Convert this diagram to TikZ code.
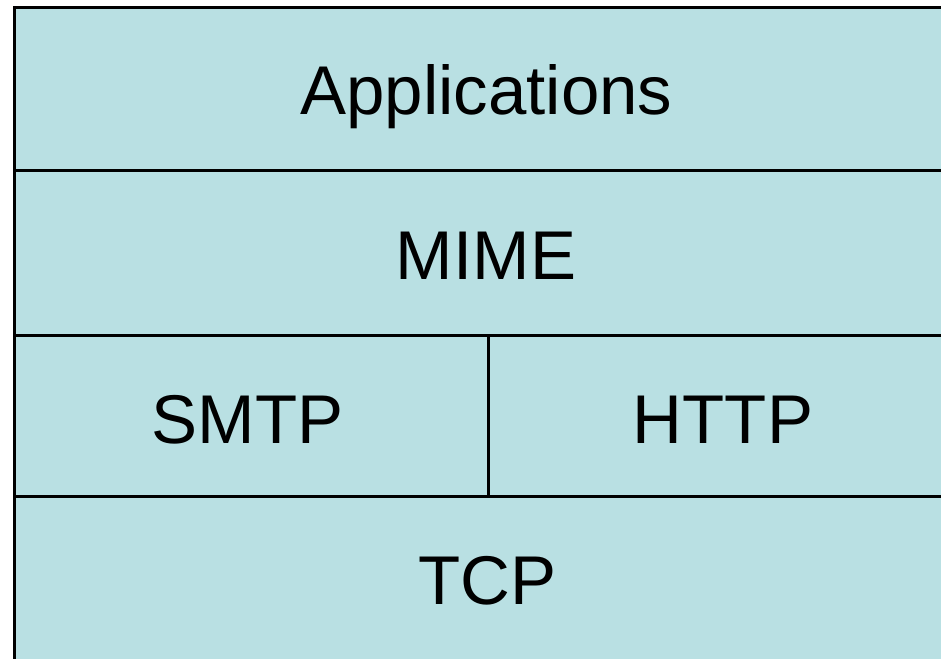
\documentclass[tikz,border=0pt]{standalone}
\usepackage{fontspec}
\setmainfont{Liberation Sans}
\definecolor{cellfill}{RGB}{185,224,227}
\begin{document}
\begin{tikzpicture}[x=1pt,y=-1pt,
  cell/.style={draw=black,line width=3pt,fill=cellfill},
  label/.style={inner sep=0pt,anchor=base,font=\fontsize{69}{83}\selectfont}]
\useasboundingbox (0,0) rectangle (941,658);
\clip (0,0) rectangle (941,658);
\fill[white] (0,0) rectangle (941,658);
% cells
\path[cell] (14.5,7.5) rectangle (960,170.5);
\path[cell] (14.5,170.5) rectangle (960,335);
\path[cell] (14.5,335) rectangle (488,496.5);
\path[cell] (488,335) rectangle (960,496.5);
\path[cell] (14.5,496.5) rectangle (960,680);
% labels
\node[label] (apps) at (486.5,114) {Applications};
\node[label] (mime) at (486,279) {MIME};
\node[label] (smtp) at (247.5,443) {SMTP};
\node[label] (http) at (723,443) {HTTP};
\node[label] (tcp) at (487.5,604) {TCP};
\end{tikzpicture}
\end{document}
